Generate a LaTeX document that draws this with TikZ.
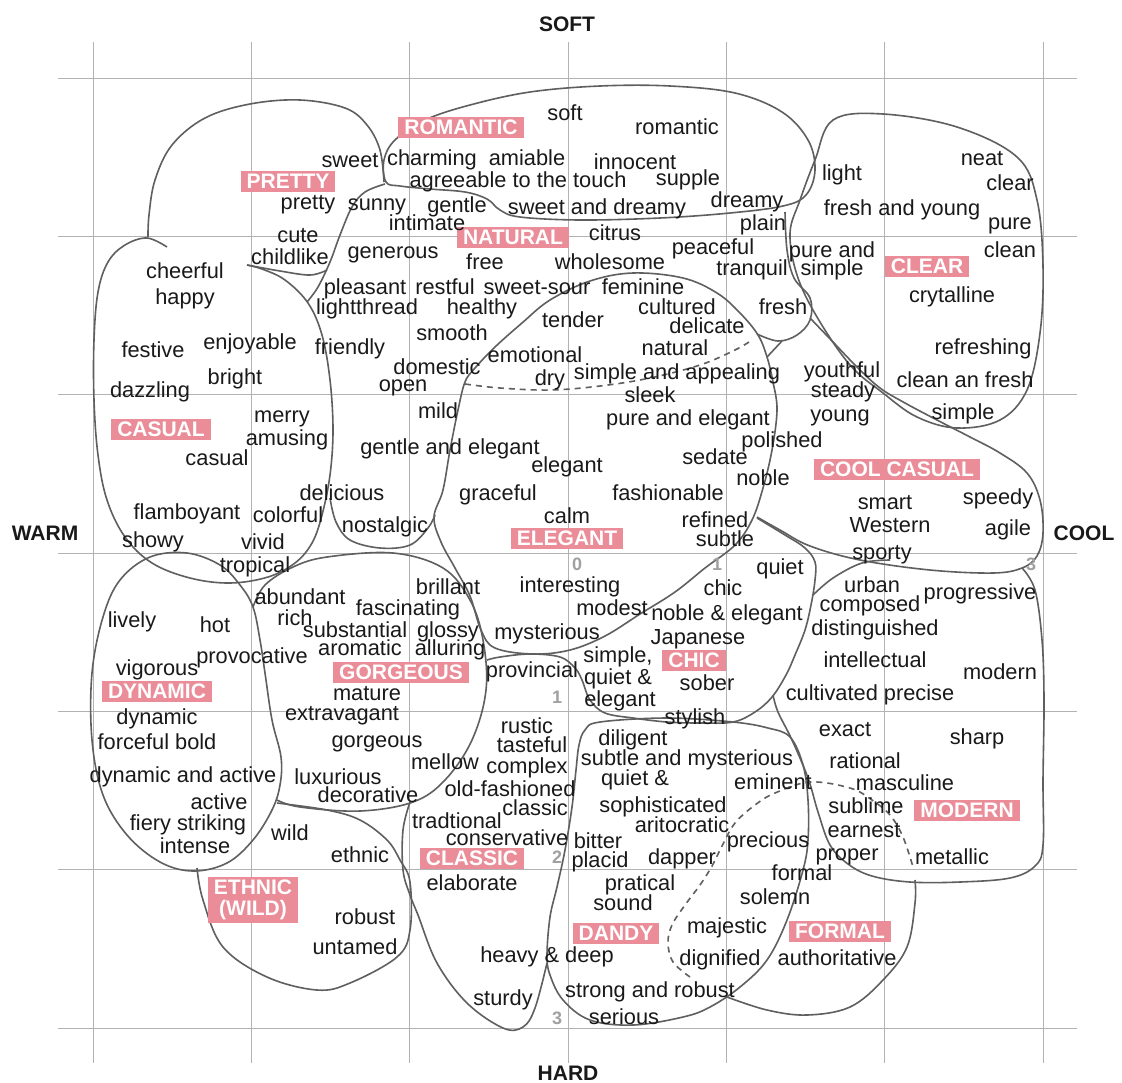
\documentclass[tikz,border=0pt]{standalone}
\usepackage{fontspec}
\setmainfont{Liberation Sans}
\definecolor{pinkc}{RGB}{234,141,153}
\definecolor{txt}{RGB}{25,25,25}
\definecolor{linec}{RGB}{95,95,95}
\definecolor{gridc}{RGB}{178,178,178}
\definecolor{numc}{RGB}{160,160,160}
\begin{document}
\begin{tikzpicture}[x=0.5pt,y=-0.5pt,
  blob/.style={draw=linec, line width=0.8pt, line join=round},
  dsh/.style={draw=linec, line width=0.8pt, dash pattern=on 3pt off 2.5pt},
  wd/.style={font=\fontsize{10.9}{12}\selectfont, text=txt, inner sep=0pt, text height=7.8pt, text depth=0.5pt},
  lab/.style={fill=pinkc, text=white, font=\bfseries\fontsize{10.5}{10}\selectfont, inner xsep=3pt, inner ysep=1.5pt, text height=7.5pt, text depth=0pt},
  labtwo/.style={fill=pinkc, text=white, font=\bfseries\fontsize{10.5}{10.5}\selectfont, inner xsep=3pt, inner ysep=1.5pt, align=center},
  ax/.style={font=\bfseries\fontsize{10.5}{11}\selectfont, text=txt, inner sep=0pt},
  num/.style={font=\bfseries\fontsize{9}{10}\selectfont, text=numc, inner sep=0pt}]
\useasboundingbox (0,0) rectangle (1122,1082);
\fill[white] (0,0) rectangle (1122,1082);
% grid
\foreach \i in {0,...,6} {
  \draw[gridc, line width=0.5pt] ({93+158.33*\i},42) -- ({93+158.33*\i},1063);
  \draw[gridc, line width=0.5pt] (58,{78+158.33*\i}) -- (1077,{78+158.33*\i});
}
% curves
\draw[blob] plot[smooth cycle, tension=0.6] coordinates {(386,182) (384,160) (395,140) (425,120) (470,105) (530,92) (600,86) (670,86) (735,93) (782,112) (808,140) (815,170) (806,195) (783,206) (730,213) (660,218) (580,220) (520,217) (500,210) (487,199) (465,192) (430,189) (400,186)};
\draw[blob] plot[smooth, tension=0.6] coordinates {(384,182) (380,150) (367,125) (345,108) (300,100) (250,104) (205,118) (172,145) (155,180) (149,215) (148,237)};
\draw[blob] plot[smooth, tension=0.6] coordinates {(167,247) (147,238) (125,245) (108,262) (98,292) (94,340) (94,400) (98,455) (107,500) (125,537) (152,563) (190,578) (230,583) (268,577) (295,563) (312,543) (322,515) (330,475) (333,430) (330,380) (322,335) (308,303) (285,280) (262,269) (247,265)};
\draw[blob] plot[smooth, tension=0.6] coordinates {(247,265) (280,271) (310,275) (327,270)};
\draw[blob] plot[smooth, tension=0.6] coordinates {(385,184) (365,192) (352,207) (340,235) (330,262) (318,287) (307,302)};
\draw[blob] plot[smooth, tension=0.6] coordinates {(330,498) (336,522) (350,540) (380,548) (410,545) (428,528) (435,515)};
\draw[blob] plot[smooth cycle, tension=0.6] coordinates {(465,382) (458,410) (450,450) (443,490) (434,517) (441,542) (455,568) (470,596) (481,630) (495,648) (533,654) (570,650) (605,636) (640,614) (675,592) (705,568) (735,545) (752,520) (763,488) (772,450) (777,410) (773,382) (767,357) (758,335) (740,313) (717,293) (683,278) (633,273) (590,281) (550,300) (522,323) (495,347) (475,368)};
\draw[blob] plot[smooth, tension=0.6] coordinates {(785,212) (787,250) (794,278) (810,298) (810,320) (797,335) (778,341) (757,334)};
\draw[blob] (767,357) -- (782,341);
\draw[blob] plot[smooth, tension=0.6] coordinates {(810,318) (833,342) (857,367) (880,388) (905,403) (937,420) (970,437) (1000,453) (1027,473) (1040,500) (1043,533) (1037,556) (1022,568) (993,573) (930,570) (860,560) (810,546) (780,530) (757,517)};
\draw[blob] plot[smooth, tension=0.6] coordinates {(757,518) (785,535) (805,548) (815,562) (815,580) (811,605) (805,630) (795,655) (786,675) (772,697) (755,712) (733,722) (700,723) (667,722) (633,718) (605,713) (590,700) (582,680) (575,668) (560,657) (530,654) (500,657) (487,660)};
\draw[blob] plot[smooth, tension=0.6] coordinates {(813,595) (833,578) (862,563) (890,560)};
\draw[blob] plot[smooth, tension=0.6] coordinates {(1022,568) (1035,590) (1042,640) (1044,700) (1043,780) (1043,845) (1035,866) (1010,878) (960,882) (910,882) (872,876) (848,864) (830,845) (818,812) (808,778) (792,740) (778,712) (773,695)};
\draw[blob] plot[smooth cycle, tension=0.6] coordinates {(600,722) (667,718) (733,722) (768,728) (790,737) (803,765) (808,800) (808,840) (803,870) (787,920) (767,960) (740,987) (710,1007) (683,1017) (633,1025) (590,1020) (563,1000) (550,975) (547,955) (550,917) (557,887) (565,850) (572,807) (576,770) (579,745) (585,730)};
\draw[blob] plot[smooth, tension=0.6] coordinates {(410,802) (403,830) (403,870) (410,895) (418,915) (437,963) (467,1003) (503,1028) (523,1027) (535,1008) (547,963)};
\draw[blob] plot[smooth, tension=0.6] coordinates {(253,607) (265,585) (293,567) (327,557) (393,553) (443,568) (470,600) (483,640) (486,690) (472,740) (445,780) (413,802) (360,811) (300,807) (277,800)};
\draw[blob] plot[smooth cycle, tension=0.6] coordinates {(150,557) (187,553) (220,565) (240,585) (253,607) (260,640) (265,673) (272,720) (281,757) (280,785) (272,810) (253,840) (227,863) (193,871) (160,862) (127,835) (103,795) (92,740) (92,673) (103,617) (120,580)};
\draw[blob] plot[smooth, tension=0.6] coordinates {(197,868) (203,900) (223,947) (267,977) (317,990) (350,983) (397,957) (410,930) (410,882) (400,860) (387,840) (360,820) (327,810) (277,803)};
\draw[blob] plot[smooth, tension=0.6] coordinates {(727,997) (767,1010) (807,1015) (850,1007) (883,980) (907,947) (915,903) (915,880)};
\draw[blob] plot[smooth cycle, tension=0.6] coordinates {(833,120) (883,114) (957,127) (1017,157) (1037,200) (1043,267) (1040,333) (1027,390) (1000,420) (957,428) (917,417) (883,393) (850,365) (817,317) (797,275) (790,233) (800,200) (815,160)};
\draw[dsh] plot[smooth, tension=0.6] coordinates {(465,384) (500,388) (550,390) (600,386) (650,378) (700,365) (735,350) (752,340)};
\draw[dsh] plot[smooth, tension=0.6] coordinates {(690,977) (673,962) (668,943) (672,925) (685,905) (700,885) (712,866) (722,846) (735,823) (755,805) (775,793) (810,782) (850,788) (872,800) (890,815) (903,837) (913,867)};
% axis labels
\node[ax] (soft0) at (567,24) {SOFT};
\node[ax] (hard0) at (568,1073) {HARD};
\node[ax] (warm0) at (45,533) {WARM};
\node[ax] (cool0) at (1084,533) {COOL};
% numbers
\node[num] (n0) at (577,564) {0};
\node[num] (n1) at (717,564) {1};
\node[num] (n3) at (1031,564) {3};
\node[num] (m1) at (557,697) {1};
\node[num] (m2) at (557,857) {2};
\node[num] (m3) at (557,1018) {3};
% category labels
\node[lab] (lROM) at (461,127) {ROMANTIC};
\node[lab] (lPRE) at (288,181) {PRETTY};
\node[lab] (lNAT) at (513,237) {NATURAL};
\node[lab] (lCLE) at (927,266) {CLEAR};
\node[lab] (lCAS) at (161,429) {CASUAL};
\node[lab] (lELE) at (567,538) {ELEGANT};
\node[lab] (lCOO) at (897,469) {COOL CASUAL};
\node[lab] (lDYN) at (157,691) {DYNAMIC};
\node[lab] (lGOR) at (401,672) {GORGEOUS};
\node[lab] (lCHI) at (694,660) {CHIC};
\node[lab] (lMOD) at (967,810) {MODERN};
\node[lab] (lCLA) at (472,858) {CLASSIC};
\node[labtwo] (lETH) at (253,900) {ETHNIC\\(WILD)};
\node[lab] (lDAN) at (616,933) {DANDY};
\node[lab] (lFOR) at (840,931) {FORMAL};
% words
\node[wd] (w1) at (565,113) {soft};
\node[wd] (w2) at (677,127) {romantic};
\node[wd] (w3) at (350,160) {sweet};
\node[wd] (w4) at (432,158) {charming};
\node[wd] (w5) at (527,158) {amiable};
\node[wd] (w6) at (635,162) {innocent};
\node[wd] (w7) at (518,180) {agreeable to the touch};
\node[wd] (w8) at (688,178) {supple};
\node[wd] (w9) at (308,202) {pretty};
\node[wd] (w10) at (377,203) {sunny};
\node[wd] (w11) at (457,205) {gentle};
\node[wd] (w12) at (597,207) {sweet and dreamy};
\node[wd] (w13) at (747,200) {dreamy};
\node[wd] (w14) at (427,223) {intimate};
\node[wd] (w15) at (763,223) {plain};
\node[wd] (w16) at (615,233) {citrus};
\node[wd] (w17) at (298,235) {cute};
\node[wd] (w18) at (290,257) {childlike};
\node[wd] (w19) at (393,251) {generous};
\node[wd] (w20) at (713,247) {peaceful};
\node[wd] (w21) at (485,262) {free};
\node[wd] (w22) at (610,262) {wholesome};
\node[wd] (w23) at (752,268) {tranquil};
\node[wd] (w24) at (185,271) {cheerful};
\node[wd] (w25) at (185,297) {happy};
\node[wd] (w26) at (365,287) {pleasant};
\node[wd] (w27) at (445,287) {restful};
\node[wd] (w28) at (537,287) {sweet-sour};
\node[wd] (w29) at (643,287) {feminine};
\node[wd] (w30) at (367,307) {lightthread};
\node[wd] (w31) at (482,307) {healthy};
\node[wd] (w32) at (677,307) {cultured};
\node[wd] (w33) at (783,307) {fresh};
\node[wd] (w34) at (573,320) {tender};
\node[wd] (w35) at (707,326) {delicate};
\node[wd] (w36) at (452,333) {smooth};
\node[wd] (w37) at (153,350) {festive};
\node[wd] (w38) at (250,342) {enjoyable};
\node[wd] (w39) at (350,347) {friendly};
\node[wd] (w40) at (675,348) {natural};
\node[wd] (w41) at (535,355) {emotional};
\node[wd] (w42) at (437,367) {domestic};
\node[wd] (w43) at (235,377) {bright};
\node[wd] (w44) at (403,384) {open};
\node[wd] (w45) at (550,378) {dry};
\node[wd] (w46) at (677,372) {simple and appealing};
\node[wd] (w47) at (150,390) {dazzling};
\node[wd] (w48) at (650,395) {sleek};
\node[wd] (w49) at (438,411) {mild};
\node[wd] (w50) at (282,415) {merry};
\node[wd] (w51) at (688,418) {pure and elegant};
\node[wd] (w52) at (287,438) {amusing};
\node[wd] (w53) at (782,440) {polished};
\node[wd] (w54) at (450,447) {gentle and elegant};
\node[wd] (w55) at (217,458) {casual};
\node[wd] (w56) at (715,457) {sedate};
\node[wd] (w57) at (567,465) {elegant};
\node[wd] (w58) at (763,478) {noble};
\node[wd] (w59) at (342,493) {delicious};
\node[wd] (w60) at (498,493) {graceful};
\node[wd] (w61) at (668,493) {fashionable};
\node[wd] (w62) at (187,512) {flamboyant};
\node[wd] (w63) at (288,515) {colorful};
\node[wd] (w64) at (567,516) {calm};
\node[wd] (w65) at (715,520) {refined};
\node[wd] (w66) at (385,525) {nostalgic};
\node[wd] (w67) at (153,540) {showy};
\node[wd] (w68) at (263,542) {vivid};
\node[wd] (w69) at (725,539) {subtle};
\node[wd] (w70) at (255,565) {tropical};
\node[wd] (r1) at (842,173) {light};
\node[wd] (r2) at (982,158) {neat};
\node[wd] (r3) at (1010,183) {clear};
\node[wd] (r4) at (902,208) {fresh and young};
\node[wd] (r5) at (1010,222) {pure};
\node[wd] (r6) at (832,250) {pure and};
\node[wd] (r7) at (832,268) {simple};
\node[wd] (r8) at (1010,250) {clean};
\node[wd] (r9) at (952,295) {crytalline};
\node[wd] (r10) at (983,347) {refreshing};
\node[wd] (r11) at (842,370) {youthful};
\node[wd] (r12) at (965,380) {clean an fresh};
\node[wd] (r13) at (843,390) {steady};
\node[wd] (r14) at (840,414) {young};
\node[wd] (r15) at (963,412) {simple};
\node[wd] (r16) at (885,502) {smart};
\node[wd] (r17) at (998,497) {speedy};
\node[wd] (r18) at (890,525) {Western};
\node[wd] (r19) at (1008,528) {agile};
\node[wd] (r20) at (882,552) {sporty};
\node[wd] (b1) at (448,587) {brillant};
\node[wd] (b2) at (570,585) {interesting};
\node[wd] (b3) at (723,588) {chic};
\node[wd] (b4) at (780,567) {quiet};
\node[wd] (b5) at (300,597) {abundant};
\node[wd] (b6) at (408,608) {fascinating};
\node[wd] (b7) at (872,585) {urban};
\node[wd] (b8) at (980,592) {progressive};
\node[wd] (b9) at (870,604) {composed};
\node[wd] (b10) at (612,608) {modest};
\node[wd] (b11) at (727,613) {noble \& elegant};
\node[wd] (b12) at (295,618) {rich};
\node[wd] (b13) at (132,620) {lively};
\node[wd] (b14) at (215,625) {hot};
\node[wd] (b15) at (355,630) {substantial};
\node[wd] (b16) at (448,630) {glossy};
\node[wd] (b17) at (547,632) {mysterious};
\node[wd] (b18) at (875,628) {distinguished};
\node[wd] (b19) at (698,637) {Japanese};
\node[wd] (b20) at (360,648) {aromatic};
\node[wd] (b21) at (450,648) {alluring};
\node[wd] (b22) at (252,656) {provocative};
\node[wd] (b23) at (618,655) {simple,};
\node[wd] (b24) at (532,670) {provincial};
\node[wd] (b25) at (875,660) {intellectual};
\node[wd] (b26) at (157,668) {vigorous};
\node[wd] (b27) at (618,677) {quiet \&};
\node[wd] (b28) at (1000,672) {modern};
\node[wd] (b29) at (707,683) {sober};
\node[wd] (b30) at (367,693) {mature};
\node[wd] (b31) at (870,693) {cultivated precise};
\node[wd] (b32) at (620,699) {elegant};
\node[wd] (b33) at (157,717) {dynamic};
\node[wd] (b34) at (342,713) {extravagant};
\node[wd] (b35) at (695,717) {stylish};
\node[wd] (b36) at (527,726) {rustic};
\node[wd] (b37) at (845,729) {exact};
\node[wd] (b38) at (633,738) {diligent};
\node[wd] (b39) at (977,737) {sharp};
\node[wd] (b40) at (157,742) {forceful bold};
\node[wd] (b41) at (377,740) {gorgeous};
\node[wd] (b42) at (532,745) {tasteful};
\node[wd] (b43) at (687,758) {subtle and mysterious};
\node[wd] (b44) at (865,761) {rational};
\node[wd] (b45) at (445,762) {mellow};
\node[wd] (b46) at (527,766) {complex};
\node[wd] (b47) at (183,775) {dynamic and active};
\node[wd] (b48) at (338,777) {luxurious};
\node[wd] (b49) at (635,778) {quiet \&};
\node[wd] (b50) at (773,782) {eminent};
\node[wd] (b51) at (905,783) {masculine};
\node[wd] (b52) at (510,789) {old-fashioned};
\node[wd] (b53) at (368,795) {decorative};
\node[wd] (b54) at (219,802) {active};
\node[wd] (b55) at (535,808) {classic};
\node[wd] (b56) at (663,805) {sophisticated};
\node[wd] (b57) at (866,806) {sublime};
\node[wd] (b58) at (188,823) {fiery striking};
\node[wd] (b59) at (457,821) {tradtional};
\node[wd] (b60) at (682,825) {aritocratic};
\node[wd] (b61) at (864,830) {earnest};
\node[wd] (b62) at (290,833) {wild};
\node[wd] (b63) at (507,838) {conservative};
\node[wd] (b64) at (598,841) {bitter};
\node[wd] (b65) at (768,840) {precious};
\node[wd] (b66) at (195,846) {intense};
\node[wd] (b67) at (360,855) {ethnic};
\node[wd] (b68) at (600,860) {placid};
\node[wd] (b69) at (682,857) {dapper};
\node[wd] (b70) at (847,853) {proper};
\node[wd] (b71) at (952,857) {metallic};
\node[wd] (b72) at (802,873) {formal};
\node[wd] (b73) at (472,883) {elaborate};
\node[wd] (b74) at (640,883) {pratical};
\node[wd] (b75) at (775,897) {solemn};
\node[wd] (b76) at (623,903) {sound};
\node[wd] (b77) at (365,917) {robust};
\node[wd] (b78) at (727,926) {majestic};
\node[wd] (b79) at (547,955) {heavy \& deep};
\node[wd] (b80) at (355,947) {untamed};
\node[wd] (b81) at (720,958) {dignified};
\node[wd] (b82) at (837,958) {authoritative};
\node[wd] (b83) at (650,990) {strong and robust};
\node[wd] (b84) at (503,998) {sturdy};
\node[wd] (b85) at (624,1017) {serious};
\end{tikzpicture}
\end{document}
